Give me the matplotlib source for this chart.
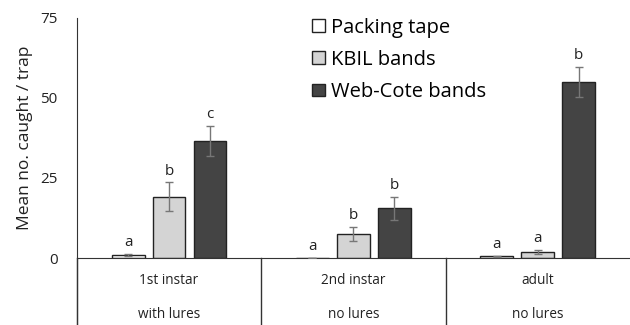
import numpy as np
import matplotlib.pyplot as plt
import matplotlib.transforms as mtransforms
from matplotlib.patches import Patch

plt.rcParams['font.family'] = ['Open Sans', 'DejaVu Sans']

stages = ['1st instar', '2nd instar', 'adult']
lures = ['with lures', 'no lures', 'no lures']
series = ['Packing tape', 'KBIL bands', 'Web-Cote bands']
colors = ['#ffffff', '#d4d4d4', '#444444']

packing = [1.0, 0.0, 0.5]
packing_err = [0.4, 0.0, 0.2]
kbil = [19.2, 7.5, 1.9]
kbil_err = [4.4, 2.1, 0.6]
webcote = [36.6, 15.6, 55.0]
webcote_err = [4.6, 3.6, 4.6]
letters = [['a', 'a', 'a'], ['b', 'b', 'a'], ['c', 'b', 'b']]

values = [packing, kbil, webcote]
errors = [packing_err, kbil_err, webcote_err]

fig = plt.figure(figsize=(6.3, 3.25), dpi=100)
ax = fig.add_axes([0.122, 0.206, 0.878, 0.739])

x = np.arange(len(stages))
w = 0.178
step = 0.222
for i in range(3):
    xs = x + (i - 1) * step
    err = np.array(errors[i])
    ax.bar(xs, values[i], width=w, color=colors[i], edgecolor='#222222', linewidth=1.0,
           label=series[i], zorder=2)
    # upper whisker above the bar, lower whisker drawn inside the bar
    ax.errorbar(xs, values[i], yerr=[err, err], fmt='none', ecolor='#777777',
                elinewidth=1.0, capsize=3, capthick=1.0, zorder=3)
    for j in range(3):
        top = values[i][j] + errors[i][j]
        ax.text(xs[j], top + 1.2, letters[i][j], ha='center', va='bottom', fontsize=11,
                color='#222222')

ax.set_xlim(-0.5, 2.5)
ax.set_ylim(0, 75)
ax.set_yticks([0, 25, 50, 75])
ax.tick_params(axis='y', length=0, labelsize=11, pad=14, colors='#222222')
ax.set_xticks([])
ax.set_ylabel('Mean no. caught / trap', fontsize=12.5, color='#222222', labelpad=5)
for s in ['top', 'right']:
    ax.spines[s].set_visible(False)
ax.spines['left'].set_color('#333333')
ax.spines['bottom'].set_color('#333333')
ax.spines['left'].set_bounds(-25, 75)

# category table below the axis
trans = mtransforms.blended_transform_factory(ax.transData, ax.transAxes)
for sep in [-0.5, 0.5, 1.5]:
    ax.plot([sep, sep], [0, -0.3], transform=trans, color='#333333', lw=1.0, clip_on=False)
for j in range(3):
    ax.text(x[j], -0.095, stages[j], transform=trans, ha='center', va='center', fontsize=9.8,
            color='#222222')
    ax.text(x[j], -0.235, lures[j], transform=trans, ha='center', va='center', fontsize=9.8,
            color='#222222')

handles = [Patch(facecolor=colors[i], edgecolor='#222222', linewidth=1.0) for i in range(3)]
ax.legend(handles, series, loc='upper left', bbox_to_anchor=(0.426, 1.0), frameon=False,
          fontsize=14.5, handlelength=0.6, handleheight=0.6, handletextpad=0.3,
          labelspacing=0.6, borderaxespad=0, borderpad=0)

fig.savefig('out.png', dpi=100)
